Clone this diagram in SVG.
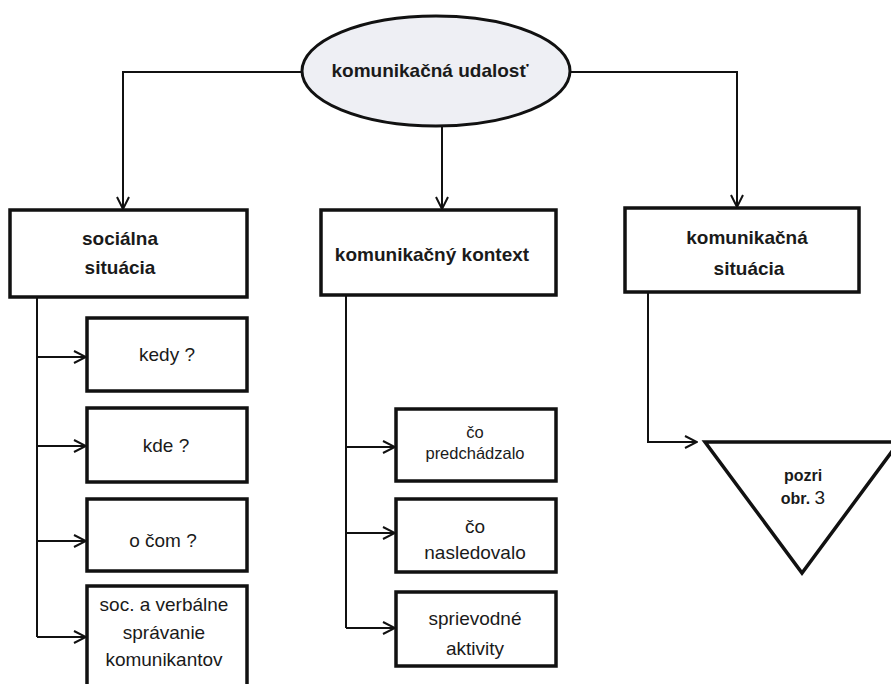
<svg xmlns="http://www.w3.org/2000/svg" width="891" height="684" viewBox="0 0 891 684">
  <defs>
    <marker id="arrow" viewBox="0 0 14 14" refX="13" refY="7" markerWidth="14" markerHeight="14" markerUnits="userSpaceOnUse" orient="auto">
      <path d="M1,1 L13,7 L1,13" fill="none" stroke="#111" stroke-width="2"/>
    </marker>
  </defs>
  <style>
    .box { fill: #fff; stroke: #111; stroke-width: 3.5; }
    .head { font-family: "Liberation Sans", Arial, sans-serif; font-weight: bold; font-size: 19px; fill: #1a1a1a; text-anchor: middle; }
    .item { font-family: "Liberation Sans", Arial, sans-serif; font-size: 19px; fill: #1a1a1a; text-anchor: middle; }
    .conn { fill: none; stroke: #111; stroke-width: 2; }
  </style>
  <rect width="891" height="684" fill="#fff"/>

  <g id="connectors">
    <!-- top bus from the event ellipse -->
    <path class="conn" d="M302,72 H123 V209" marker-end="url(#arrow)"/>
    <path class="conn" d="M570,72 H737 V207" marker-end="url(#arrow)"/>
    <path class="conn" d="M442,126 V209" marker-end="url(#arrow)"/>
    <!-- social situation branches -->
    <path class="conn" d="M37,297 V637"/>
    <path class="conn" d="M37,357 H86" marker-end="url(#arrow)"/>
    <path class="conn" d="M37,446 H86" marker-end="url(#arrow)"/>
    <path class="conn" d="M37,541 H86" marker-end="url(#arrow)"/>
    <path class="conn" d="M37,637 H86" marker-end="url(#arrow)"/>
    <!-- context branches -->
    <path class="conn" d="M346,295 V628"/>
    <path class="conn" d="M346,447 H395" marker-end="url(#arrow)"/>
    <path class="conn" d="M346,533 H395" marker-end="url(#arrow)"/>
    <path class="conn" d="M346,628 H395" marker-end="url(#arrow)"/>
    <!-- communication situation to reference -->
    <path class="conn" d="M648,292 V442 H697" marker-end="url(#arrow)"/>
  </g>

  <g id="event">
    <ellipse cx="436" cy="71" rx="134" ry="55" fill="#eeeff4" stroke="#111" stroke-width="3"/>
    <text class="head" x="430" y="77">komunikačná udalosť</text>
  </g>

  <g id="social">
    <rect class="box" x="10" y="210" width="237" height="87"/>
    <text class="head" x="120" y="245">sociálna</text>
    <text class="head" x="120" y="274">situácia</text>
  </g>

  <g id="context">
    <rect class="box" x="321" y="210" width="235" height="85"/>
    <text class="head" x="432" y="261">komunikačný kontext</text>
  </g>

  <g id="situation">
    <rect class="box" x="625" y="208" width="234" height="84"/>
    <text class="head" x="747" y="244">komunikačná</text>
    <text class="head" x="749" y="275">situácia</text>
  </g>

  <g id="when">
    <rect class="box" x="87" y="318" width="160" height="73"/>
    <text class="item" x="167" y="361">kedy ?</text>
  </g>

  <g id="where">
    <rect class="box" x="87" y="408" width="160" height="74"/>
    <text class="item" x="166" y="452">kde ?</text>
  </g>

  <g id="about">
    <rect class="box" x="87" y="499" width="160" height="72"/>
    <text class="item" x="163" y="547">o čom ?</text>
  </g>

  <g id="behaviour">
    <rect class="box" x="87" y="586" width="160" height="110"/>
    <text class="item" x="164" y="611">soc. a verbálne</text>
    <text class="item" x="164" y="639">správanie</text>
    <text class="item" x="164" y="666">komunikantov</text>
  </g>

  <g id="before">
    <rect class="box" x="396" y="409" width="160" height="72"/>
    <text class="item" x="475" y="438" style="font-size:16.5px">čo</text>
    <text class="item" x="475" y="459" style="font-size:16.5px">predchádzalo</text>
  </g>

  <g id="after">
    <rect class="box" x="396" y="499" width="160" height="73"/>
    <text class="item" x="475" y="533">čo</text>
    <text class="item" x="475" y="559">nasledovalo</text>
  </g>

  <g id="accompanying">
    <rect class="box" x="396" y="592" width="160" height="74"/>
    <text class="item" x="475" y="625">sprievodné</text>
    <text class="item" x="475" y="655">aktivity</text>
  </g>

  <g id="reference">
    <polygon points="705,442 899,442 802,573" fill="#fff" stroke="#111" stroke-width="3.5" stroke-linejoin="miter"/>
    <text class="head" x="803" y="481" style="font-size:16px">pozri</text>
    <text class="head" x="803" y="504" style="font-size:16px">obr. <tspan style="font-weight:normal;font-size:19px">3</tspan></text>
  </g>
</svg>
